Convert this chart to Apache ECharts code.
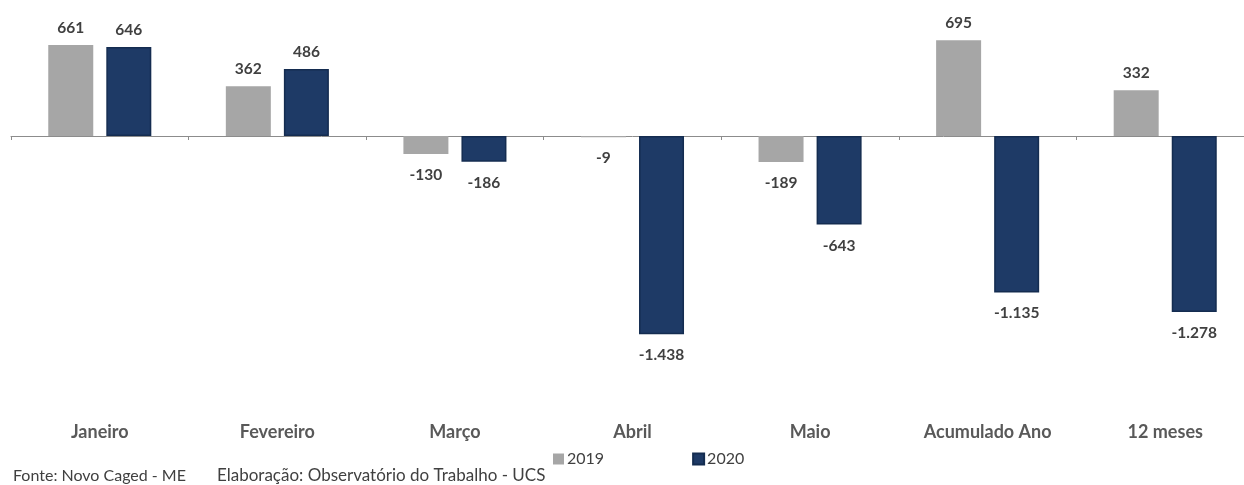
<!DOCTYPE html>
<html>
<head>
<meta charset="utf-8">
<script src="https://cdn.jsdelivr.net/npm/echarts@6/dist/echarts.min.js"></script>
<style>
html,body{margin:0;padding:0;background:#fff;overflow:hidden;width:1244px;height:485px;}
#chart{width:1254px;height:485px;}
</style>
</head>
<body>
<div id="chart"></div>
<script>
const categories = ['Janeiro', 'Fevereiro', 'Março', 'Abril', 'Maio', 'Acumulado Ano', '12 meses'];
const values2019 = [661, 362, -130, -9, -189, 695, 332];
const values2020 = [646, 486, -186, -1438, -643, -1135, -1278];
const seriesNames = ['2019', '2020'];
const sourceText = 'Fonte: Novo Caged - ME';
const creditText = 'Elaboração: Observatório do Trabalho - UCS';

const FONT = 'Lato';
function fmt(v) {
  const s = String(Math.abs(v)).replace(/\B(?=(\d{3})+(?!\d))/g, '.');
  return (v < 0 ? '-' : '') + s;
}
function mkData(vals) {
  return vals.map(v => ({
    value: v,
    label: { position: v >= 0 ? 'top' : 'bottom', distance: v >= 0 ? 9 : 13 }
  }));
}
const labelStyle = {
  show: true,
  fontFamily: FONT,
  fontWeight: 'bold',
  fontSize: 15.5,
  color: '#404040',
  formatter: p => fmt(p.value)
};

const chart = echarts.init(document.getElementById('chart'), null, { renderer: 'canvas' });
chart.setOption({
  animation: false,
  backgroundColor: '#ffffff',
  grid: { left: 11, top: 1, width: 1243, height: 383, containLabel: false },
  legend: {
    data: seriesNames,
    left: 553,
    top: 451,
    padding: 0,
    icon: 'rect',
    itemWidth: 11,
    itemHeight: 11,
    itemGap: 88,
    textStyle: { fontFamily: FONT, fontSize: 16, color: '#404040', padding: [0, 0, 0, -2] }
  },
  xAxis: [
    {
      type: 'category',
      data: categories,
      position: 'bottom',
      axisLine: { show: false, onZero: false },
      axisTick: { show: false },
      axisLabel: { margin: 39, fontFamily: FONT, fontWeight: 'bold', fontSize: 18, color: '#595959' }
    },
    {
      type: 'category',
      data: categories,
      position: 'bottom',
      axisLine: { show: true, onZero: true, lineStyle: { color: '#8c8c8c', width: 1 } },
      axisTick: { show: true, length: 4, lineStyle: { color: '#8c8c8c' } },
      axisLabel: { show: false }
    }
  ],
  yAxis: {
    type: 'value',
    min: -1800,
    max: 980,
    show: false,
    splitLine: { show: false }
  },
  series: [
    {
      name: seriesNames[0],
      type: 'bar',
      xAxisIndex: 0,
      barWidth: 45,
      barGap: '29%',
      itemStyle: { color: '#a6a6a6' },
      label: labelStyle,
      data: mkData(values2019)
    },
    {
      name: seriesNames[1],
      type: 'bar',
      xAxisIndex: 0,
      barWidth: 45,
      barGap: '29%',
      itemStyle: { color: '#1e3a66', borderColor: '#142c50', borderWidth: 1.5 },
      label: labelStyle,
      data: mkData(values2020)
    }
  ],
  graphic: [
    { type: 'text', left: 13, top: 468, style: { text: sourceText, font: '16px ' + FONT, fill: '#404040' } },
    { type: 'text', left: 217, top: 467, style: { text: creditText, font: '17px ' + FONT, fill: '#404040' } }
  ]
});
</script>
</body>
</html>
